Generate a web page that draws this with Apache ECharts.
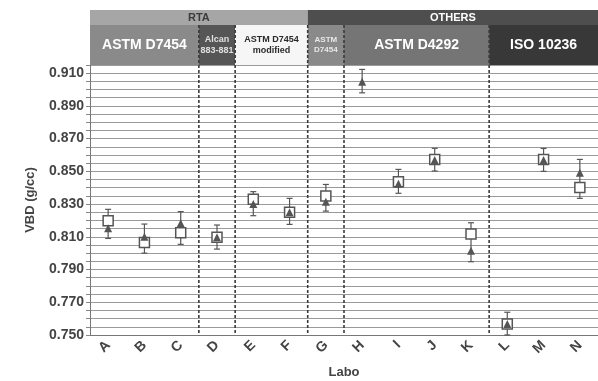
<!DOCTYPE html>
<html>
<head>
<meta charset="utf-8">
<script src="https://cdn.jsdelivr.net/npm/echarts@6/dist/echarts.min.js"></script>
<style>html,body{margin:0;padding:0;background:#fff}#c{width:598px;height:381px}</style>
</head>
<body>
<div id="c"></div>
<script>
// ---- data ----
var categories = ['A','B','C','D','E','F','G','H','I','J','K','L','M','N'];
var squareVals   = [0.8198, 0.8066, 0.8125, 0.8097, 0.8330, 0.8250, 0.8350, null,   0.8437, 0.8573, 0.8117, 0.7567, 0.8573, 0.8402];
var triangleVals = [0.8152, 0.8100, 0.8183, 0.8097, 0.8300, 0.8250, 0.8315, 0.9048, 0.8425, 0.8570, 0.8015, 0.7567, 0.8570, 0.8492];
var errLow  = [0.8090, 0.8000, 0.8054, 0.8025, 0.8229, 0.8176, 0.8257, 0.8980, 0.8366, 0.8502, 0.7948, 0.7500, 0.8500, 0.8335];
var errHigh = [0.8268, 0.8178, 0.8254, 0.8172, 0.8376, 0.8335, 0.8420, 0.9123, 0.8512, 0.8641, 0.8186, 0.7639, 0.8640, 0.8573];
var yTickLabels = ['0.750','0.770','0.790','0.810','0.830','0.850','0.870','0.890','0.910'];
var topLabels = ['RTA', 'OTHERS'];
var topFrom = [0, 6];
var topTo   = [5, 13];
var subLabels = ['ASTM D7454', 'Alcan\n883-881', 'ASTM D7454\nmodified', 'ASTM\nD7454', 'ASTM D4292', 'ISO 10236'];
var subFrom = [0, 3, 4, 6, 7, 11];
var subTo   = [2, 3, 5, 6, 10, 13];
var groupBoundaries = [3, 4, 6, 7, 11];

// ---- styles ----
var FONT = 'Liberation Sans, Arial, sans-serif';
var topFill = ['#a6a6a6', '#4e4e4e'];
var topText = ['#3c3c3c', '#ffffff'];
var subFill = ['#8a8a8a', '#565656', '#f6f6f6', '#8a8a8a', '#757575', '#383838'];
var subText = ['#ffffff', '#e0e0e0', '#2a2a2a', '#e8e8e8', '#ffffff', '#ffffff'];
var subSize = [14, 9, 9, 8, 14, 14];

var headerData = [];
topLabels.forEach(function (l, i) { headerData.push([topFrom[i], topTo[i], 0, i]); });
subLabels.forEach(function (l, i) { headerData.push([subFrom[i], subTo[i], 1, i]); });

var chart = echarts.init(document.getElementById('c'), null, {renderer: 'canvas'});
var option = {
  backgroundColor: '#fff',
  animation: false,
  grid: [
    {left: 90, right: 0, top: 65, bottom: 46, containLabel: false, outerBoundsMode: 'none'},
    {left: 90, right: 0, top: 10, height: 55, containLabel: false, outerBoundsMode: 'none'}
  ],
  xAxis: [
    {
      type: 'category', data: categories, gridIndex: 0,
      name: 'Labo', nameLocation: 'middle', nameGap: 31,
      nameTextStyle: {fontFamily: FONT, fontWeight: 'bold', fontSize: 13, color: '#444'},
      axisLine: {lineStyle: {color: '#777'}},
      axisTick: {length: 3, lineStyle: {color: '#999'}},
      axisLabel: {rotate: 45, margin: 8, fontFamily: FONT, fontWeight: 'bold', fontSize: 14, color: '#444', interval: 0},
      splitLine: {show: false}
    },
    {type: 'category', data: categories, gridIndex: 1, show: false}
  ],
  yAxis: [
    {
      type: 'value', gridIndex: 0, min: 0.75, max: 0.915, interval: 0.005,
      name: 'VBD (g/cc)', nameLocation: 'middle', nameGap: 53,
      nameTextStyle: {fontFamily: FONT, fontWeight: 'bold', fontSize: 13, color: '#444'},
      axisLine: {show: true, lineStyle: {color: '#777'}},
      axisTick: {show: true, length: 4, lineStyle: {color: '#888'}},
      axisLabel: {
        margin: 6, fontFamily: FONT, fontWeight: 'bold', fontSize: 14, color: '#444',
        formatter: function (v) {
          var s = v.toFixed(3);
          return yTickLabels.indexOf(s) >= 0 ? s : '';
        }
      },
      splitLine: {show: true, lineStyle: {color: '#9a9a9a', width: 1}}
    },
    {type: 'value', gridIndex: 1, min: 0, max: 1, show: false}
  ],
  series: [
    {
      type: 'custom', xAxisIndex: 1, yAxisIndex: 1, data: headerData, clip: false, silent: true,
      encode: {x: 0, y: 2},
      renderItem: function (params, api) {
        var from = api.value(0), to = api.value(1), row = api.value(2), gi = api.value(3);
        var cs = params.coordSys;
        var bw = api.size([1, 0])[0];
        var x0 = api.coord([from, 0])[0] - bw / 2;
        var x1 = api.coord([to, 0])[0] + bw / 2;
        var h1 = Math.round(cs.height * 0.28);
        var y = row === 0 ? cs.y : cs.y + h1;
        var h = row === 0 ? h1 : cs.height - h1;
        var fill = row === 0 ? topFill[gi] : subFill[gi];
        var tc = row === 0 ? topText[gi] : subText[gi];
        var fs = row === 0 ? 11 : subSize[gi];
        var txt = row === 0 ? topLabels[gi] : subLabels[gi];
        return {
          type: 'group',
          children: [
            {type: 'rect', shape: {x: x0, y: y, width: x1 - x0, height: h}, style: {fill: fill}},
            {type: 'text', x: (x0 + x1) / 2, y: y + h / 2,
             style: {text: txt, fill: tc, font: 'bold ' + fs + 'px ' + FONT, align: 'center', verticalAlign: 'middle', lineHeight: fs + 2}}
          ]
        };
      },
      z: 1
    },
    {
      type: 'custom', xAxisIndex: 0, yAxisIndex: 0, silent: true, clip: false,
      data: groupBoundaries.map(function (b) { return [b, 0.75]; }),
      encode: {x: 0, y: 1},
      renderItem: function (params, api) {
        var cs = params.coordSys;
        var bw = api.size([1, 0])[0];
        var x = api.coord([api.value(0), 0.75])[0] - bw / 2;
        return {
          type: 'line',
          shape: {x1: x, y1: cs.y - 40, x2: x, y2: cs.y + cs.height},
          style: {stroke: '#3a3a3a', lineWidth: 1.6, lineDash: [3, 2]}
        };
      },
      z: 3
    },
    {
      type: 'custom', xAxisIndex: 0, yAxisIndex: 0, silent: true,
      data: categories.map(function (c, i) { return [i, errLow[i], errHigh[i]]; }),
      encode: {x: 0, y: [1, 2]},
      renderItem: function (params, api) {
        var p0 = api.coord([api.value(0), api.value(1)]);
        var p1 = api.coord([api.value(0), api.value(2)]);
        var w = 3;
        var st = {stroke: '#555', lineWidth: 1.2};
        return {
          type: 'group',
          children: [
            {type: 'line', shape: {x1: p0[0], y1: p0[1], x2: p1[0], y2: p1[1]}, style: st},
            {type: 'line', shape: {x1: p0[0] - w, y1: p0[1], x2: p0[0] + w, y2: p0[1]}, style: st},
            {type: 'line', shape: {x1: p1[0] - w, y1: p1[1], x2: p1[0] + w, y2: p1[1]}, style: st}
          ]
        };
      },
      z: 4
    },
    {
      type: 'scatter', xAxisIndex: 0, yAxisIndex: 0, data: squareVals,
      symbol: 'rect', symbolSize: 10,
      itemStyle: {color: '#ffffff', borderColor: '#555', borderWidth: 1.5, opacity: 1},
      z: 5
    },
    {
      type: 'scatter', xAxisIndex: 0, yAxisIndex: 0, data: triangleVals,
      symbol: 'triangle', symbolSize: 8,
      itemStyle: {color: '#555', opacity: 1},
      z: 6
    }
  ]
};
chart.setOption(option);
</script>
</body>
</html>
